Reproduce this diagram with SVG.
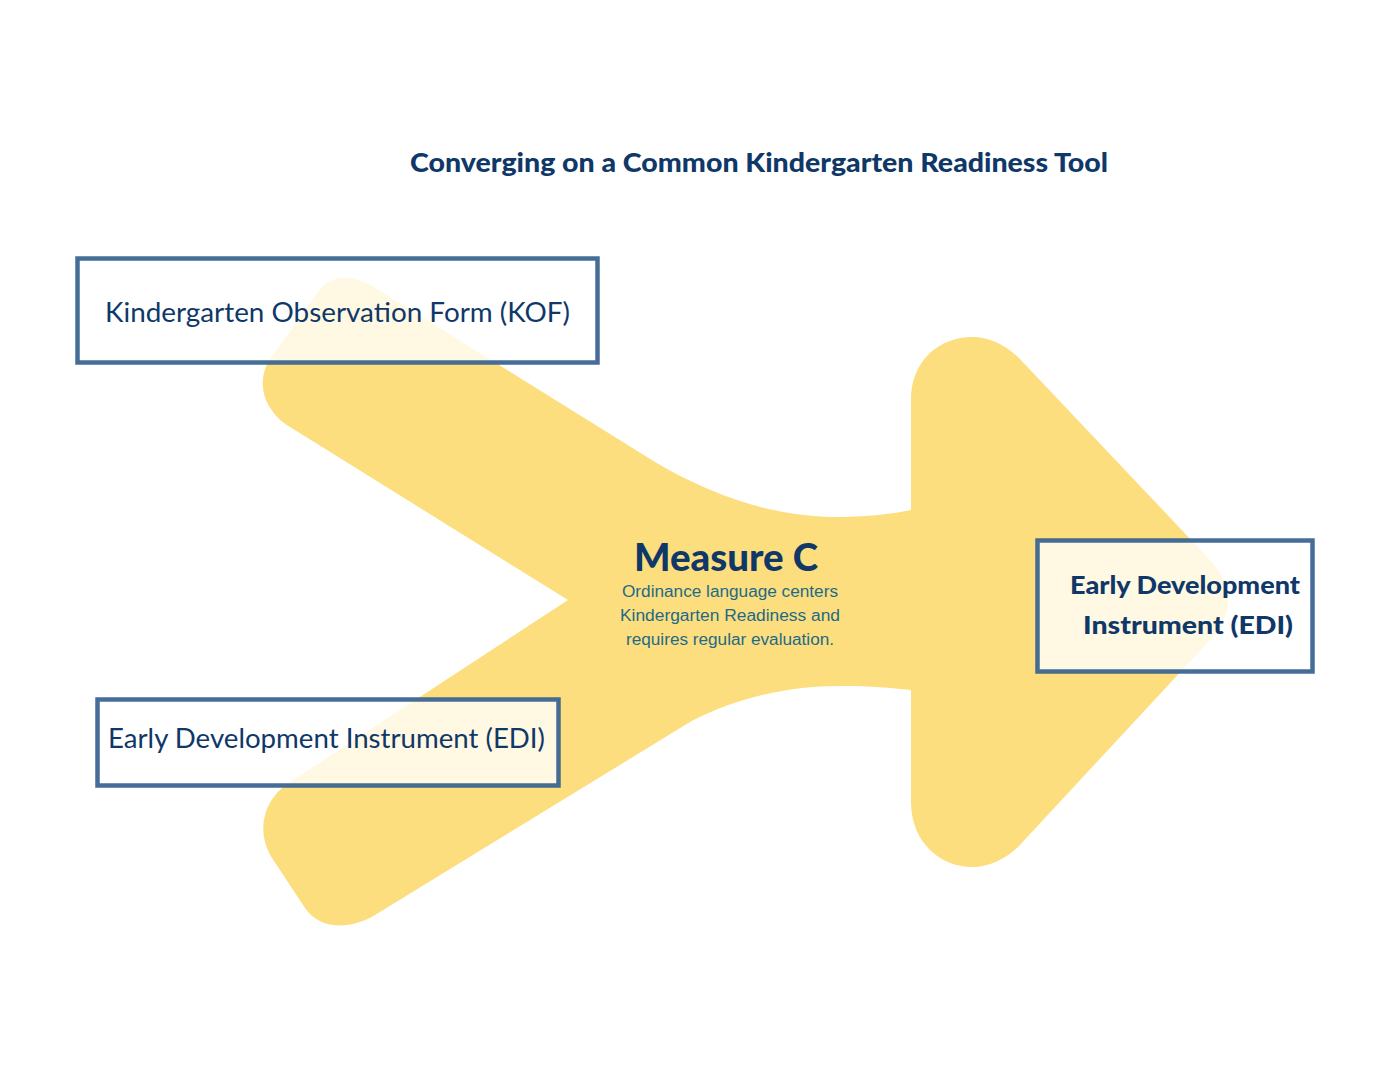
<svg xmlns="http://www.w3.org/2000/svg" width="1394" height="1080" viewBox="0 0 1394 1080">
<style>
.box{fill:#ffffff;fill-opacity:0.78;stroke:#36618f;stroke-opacity:0.92;stroke-width:4.5}
.lbl{font-family:Lato,"Open Sans",sans-serif;fill:#0f3868;font-size:27px}
.bold{font-weight:700}
.heavy{font-weight:900}
.sub{font-family:"Liberation Sans",Arial,sans-serif;fill:#1f6a86;font-size:16px;text-anchor:middle}
</style>
<rect width="1394" height="1080" fill="#ffffff"/>
<g id="title">
<text class="lbl heavy" x="410" y="172" style="font-size:26px" textLength="698" lengthAdjust="spacingAndGlyphs">Converging on a Common Kindergarten Readiness Tool</text>
</g>
<g id="connectors">
<path id="arrow" fill="#fcde7e" d="M 372 286 L 655 462 C 720 500 780 518 845 517 C 875 516 898 513 911 510 L 911 400 C 911 360 940 337 972 337 C 990 337 1005 345 1018 357 L 1212 562 Q 1244 600 1212 638 L 1018 847 C 1005 859 990 867 972 867 C 940 867 911 842 911 802 L 911 690 C 890 688 870 686 845 686 C 790 685 735 698 690 722 L 375 915 C 350 930 320 930 305 908 L 272 858 C 256 832 262 800 290 782 L 568 600 L 290 427 C 265 412 256 385 268 362 L 318 292 C 330 274 352 274 372 286 Z"/>
</g>
<g id="node-kof">
<rect class="box" x="77.5" y="258.5" width="520" height="104"/>
<text class="lbl" x="105" y="322" textLength="465" lengthAdjust="spacingAndGlyphs">Kindergarten Observation Form (KOF)</text>
</g>
<g id="node-edi-left">
<rect class="box" x="97.5" y="699.5" width="461" height="86"/>
<text class="lbl" x="108" y="748" textLength="437" lengthAdjust="spacingAndGlyphs">Early Development Instrument (EDI)</text>
</g>
<g id="node-measure-c">
<text class="lbl heavy" x="726" y="571" style="font-size:37px" text-anchor="middle" textLength="184" lengthAdjust="spacingAndGlyphs">Measure C</text>
<text class="sub" x="730" y="597" textLength="216" lengthAdjust="spacingAndGlyphs">Ordinance language centers</text>
<text class="sub" x="730" y="621" textLength="220" lengthAdjust="spacingAndGlyphs">Kindergarten Readiness and</text>
<text class="sub" x="730" y="645" textLength="208" lengthAdjust="spacingAndGlyphs">requires regular evaluation.</text>
</g>
<g id="node-edi-right">
<rect class="box" x="1037.5" y="540.5" width="275" height="131"/>
<text class="lbl heavy" x="1185" y="594" style="font-size:25px" text-anchor="middle" textLength="230" lengthAdjust="spacingAndGlyphs">Early Development</text>
<text class="lbl heavy" x="1188" y="634" style="font-size:25px" text-anchor="middle" textLength="210" lengthAdjust="spacingAndGlyphs">Instrument (EDI)</text>
</g>
</svg>
